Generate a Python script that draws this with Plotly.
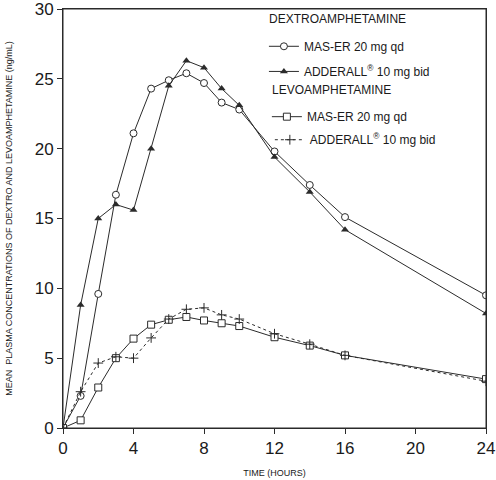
import plotly.graph_objects as go

hours = [0, 1, 2, 3, 4, 5, 6, 7, 8, 9, 10, 12, 14, 16, 24]

dextro_maser = [0, 2.3, 9.6, 16.7, 21.1, 24.3, 24.9, 25.4, 24.7, 23.3, 22.8, 19.8, 17.4, 15.1, 9.5]
dextro_adderall = [0, 8.8, 15.0, 16.0, 15.6, 20.0, 24.5, 26.3, 25.8, 24.3, 23.1, 19.4, 16.9, 14.2, 8.2]
levo_maser = [0, 0.55, 2.9, 5.0, 6.4, 7.4, 7.75, 7.95, 7.7, 7.5, 7.3, 6.5, 5.9, 5.2, 3.5]
levo_adderall = [0, 2.6, 4.65, 5.1, 5.0, 6.45, 7.8, 8.5, 8.6, 8.1, 7.8, 6.75, 6.0, 5.2, 3.35]

x_ticks = [0, 4, 8, 12, 16, 20, 24]
y_ticks = [0, 5, 10, 15, 20, 25, 30]

ink = '#2b2b2b'
font_family = 'Liberation Sans, Arial, sans-serif'

fig = go.Figure()

# open symbols are white-filled so the joining line stops at the outline
fig.add_trace(go.Scatter(x=hours, y=dextro_maser, mode='lines+markers',
                         name='MAS-ER 20 mg qd', legend='legend', showlegend=True,
                         line=dict(color=ink, width=1),
                         marker=dict(symbol='circle', size=7, color='white',
                                     line=dict(width=1, color=ink))))
fig.add_trace(go.Scatter(x=hours, y=dextro_adderall, mode='lines+markers',
                         name='ADDERALL<sup>®</sup> 10 mg bid', legend='legend2', showlegend=True,
                         line=dict(color=ink, width=1),
                         marker=dict(symbol='triangle-up', size=7, color=ink)))
fig.add_trace(go.Scatter(x=hours, y=levo_maser, mode='lines+markers',
                         name='MAS-ER 20 mg qd', legend='legend3', showlegend=True,
                         line=dict(color=ink, width=1),
                         marker=dict(symbol='square', size=7, color='white',
                                     line=dict(width=1, color=ink))))
fig.add_trace(go.Scatter(x=hours, y=levo_adderall, mode='lines+markers',
                         name='ADDERALL<sup>®</sup> 10 mg bid', legend='legend4', showlegend=True,
                         line=dict(color=ink, width=1, dash='3px,3px'),
                         marker=dict(symbol='cross-thin-open', size=7, color=ink,
                                     line=dict(width=1, color=ink))))

axis_common = dict(showline=True, linecolor=ink, linewidth=1, mirror=True,
                   showgrid=False, zeroline=False, automargin=False,
                   ticks='outside', ticklen=5, tickcolor=ink,
                   ticklabeloverflow='allow',
                   tickfont=dict(family=font_family, size=17, color='#1a1a1a'))


def key(x, y):
    return dict(x=x, y=y, xanchor='left', yanchor='middle',
                bgcolor='rgba(0,0,0,0)', font=dict(size=12))


fig.update_layout(
    width=496, height=480,
    showlegend=True,
    margin=dict(l=63, r=10, t=9, b=52),
    paper_bgcolor='white', plot_bgcolor='white',
    font=dict(family=font_family, color='#1a1a1a'),
    xaxis=dict(axis_common, range=[0, 24], tickvals=x_ticks,
               title=dict(text='TIME (HOURS)', font=dict(size=9), standoff=12)),
    yaxis=dict(axis_common, range=[0, 30], tickvals=y_ticks,
               title=dict(text='MEAN  PLASMA CONCENTRATIONS OF DEXTRO AND LEVOAMPHETAMINE (ng/mL)',
                          font=dict(size=9), standoff=20)),
    legend=key(0.475, 0.911),
    legend2=key(0.475, 0.851),
    legend3=key(0.482, 0.743),
    legend4=key(0.489, 0.688),
    annotations=[
        dict(text='DEXTROAMPHETAMINE', xref='paper', yref='paper', x=0.482, y=0.977,
             xanchor='left', yanchor='middle', showarrow=False, font=dict(size=12)),
        dict(text='LEVOAMPHETAMINE', xref='paper', yref='paper', x=0.489, y=0.807,
             xanchor='left', yanchor='middle', showarrow=False, font=dict(size=12)),
    ],
    shapes=[dict(type='rect', xref='paper', yref='paper', x0=0, x1=1, y0=0, y1=1,
                 line=dict(color=ink, width=1), layer='above')],
)

fig.write_html("out.html", config={'displayModeBar': False},
               post_script="document.body.style.margin='0';")
